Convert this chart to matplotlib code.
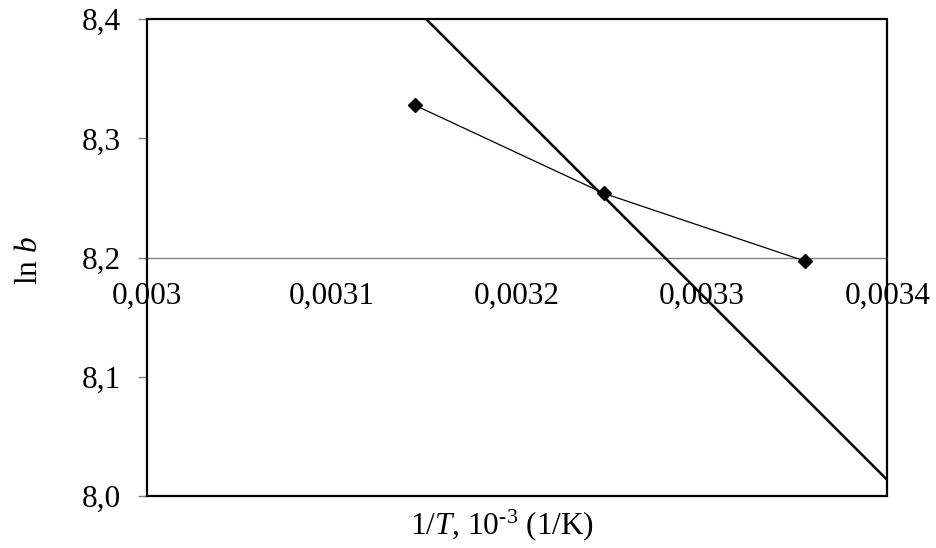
import matplotlib
matplotlib.use("Agg")
import matplotlib.pyplot as plt
from matplotlib.patches import Rectangle
from matplotlib.ticker import FixedLocator, FixedFormatter

# measured points: 1/T vs ln b
inv_t = [0.0031447, 0.0032468, 0.0033557]
ln_b = [8.328, 8.254, 8.197]

# steep reference line (endpoints where it meets the frame)
fit_x = [0.003151, 0.0034]
fit_y = [8.4, 8.0134]

x_ticks = [0.003, 0.0031, 0.0032, 0.0033, 0.0034]
x_labels = ["0,003", "0,0031", "0,0032", "0,0033", "0,0034"]
y_ticks = [8.0, 8.1, 8.2, 8.3, 8.4]
y_labels = ["8,0", "8,1", "8,2", "8,3", "8,4"]

plt.rcParams["font.family"] = ["Liberation Serif", "DejaVu Serif"]
plt.rcParams["mathtext.fontset"] = "custom"
plt.rcParams["mathtext.rm"] = "Liberation Serif"
plt.rcParams["mathtext.it"] = "Liberation Serif:italic"

FS = 22.5

fig = plt.figure(figsize=(9.37, 5.48), dpi=100)
ax = fig.add_axes([0.1566, 0.0949, 0.7904, 0.8699])

ax.plot(fit_x, fit_y, color="black", lw=1.8, solid_capstyle="butt", zorder=3)
ax.plot(inv_t, ln_b, color="black", lw=0.9, marker="D", markersize=7, zorder=4)

ax.set_xlim(0.003, 0.0034)
ax.set_ylim(8.0, 8.4)

ax.xaxis.set_major_locator(FixedLocator(x_ticks))
ax.xaxis.set_major_formatter(FixedFormatter(x_labels))
ax.yaxis.set_major_locator(FixedLocator(y_ticks))
ax.yaxis.set_major_formatter(FixedFormatter(y_labels))

for s in ["top", "right", "left"]:
    ax.spines[s].set_visible(False)
ax.spines["bottom"].set_position(("data", 8.2))
ax.spines["bottom"].set_color("#808080")
ax.spines["bottom"].set_linewidth(1.0)

ax.tick_params(axis="x", length=0, pad=17.5, labelsize=FS)
ax.tick_params(axis="y", direction="out", length=6.5, width=1.0, color="#808080",
               pad=12, labelsize=FS)

# frame around plot area
ax.add_patch(Rectangle((0, 0), 1, 1, transform=ax.transAxes, fill=False,
                       edgecolor="black", lw=1.6, clip_on=False, zorder=5))

fig.text(0.032, 0.525, r"ln $b$", rotation=90, ha="center", va="center", fontsize=FS)
fig.text(0.536, 0.042, r"1/$T$, 10$^{\text{-3}}$ (1/K)", ha="center", va="center",
         fontsize=FS)

fig.savefig("out.png", dpi=100)
plt.close(fig)
